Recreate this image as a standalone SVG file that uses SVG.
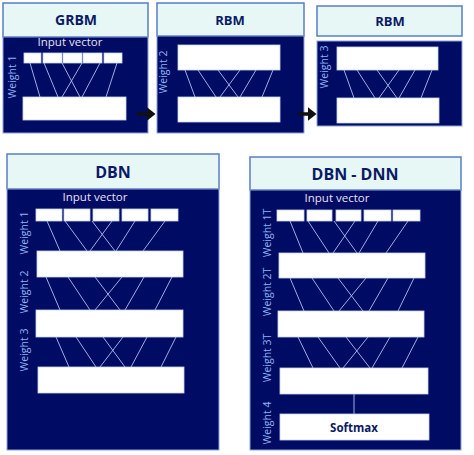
<svg xmlns="http://www.w3.org/2000/svg" width="474" height="455" viewBox="0 0 474 455">
<style>
.hdr{fill:#e6f7f6;stroke:#5a7ec2;stroke-width:1.5}
.pnl{fill:#000b63;stroke:#8aa4e0;stroke-width:1}
.box{fill:#ffffff;stroke:#c8d4f4;stroke-width:0.8}
.ttl{font-family:"Open Sans","Liberation Sans",sans-serif;font-weight:bold;fill:#0a1a66;text-anchor:middle}
.inp{font-family:"Open Sans","Liberation Sans",sans-serif;font-size:11.5px;fill:#e8e2f4;text-anchor:middle}
.wt{font-family:"Open Sans","Liberation Sans",sans-serif;font-size:10.5px;fill:#8fb4f4;text-anchor:middle}
.ln line{stroke:#a9c2f2;stroke-width:0.9}
.arr{stroke:#111;stroke-width:3.5}
</style>
<defs>
<marker id="ah" markerWidth="4" markerHeight="4" refX="1.5" refY="2" orient="auto" markerUnits="strokeWidth"><path d="M0,0 L2.5,2 L0,4 z" fill="#111"/></marker>
</defs>

<g id="grbm">
<rect class="hdr" x="3" y="3" width="145" height="34"/>
<text class="ttl" x="76" y="25" font-size="14">GRBM</text>
<rect class="pnl" x="3" y="37" width="145" height="96"/>
<text class="inp" x="70" y="46">Input vector</text>
<rect class="box" x="24" y="53" width="17" height="10"/>
<rect class="box" x="43" y="53" width="19" height="10"/>
<rect class="box" x="63" y="53" width="19" height="10"/>
<rect class="box" x="83" y="53" width="19" height="10"/>
<rect class="box" x="104" y="53" width="18" height="10"/>
<rect class="box" x="23" y="97" width="103" height="23"/>
<text class="wt" transform="translate(16,77) rotate(-90)">Weight 1</text>
</g>

<g id="rbm1">
<rect class="hdr" x="157" y="3" width="147" height="33"/>
<text class="ttl" x="230" y="25" font-size="13">RBM</text>
<rect class="pnl" x="157" y="36" width="147" height="97"/>
<rect class="box" x="178" y="45" width="102" height="25"/>
<rect class="box" x="178" y="97" width="102" height="25"/>
<text class="wt" transform="translate(167,72) rotate(-90)">Weight 2</text>
</g>

<g id="rbm2">
<rect class="hdr" x="317" y="6" width="145" height="30"/>
<text class="ttl" x="390" y="26" font-size="13">RBM</text>
<rect class="pnl" x="317" y="41" width="145" height="85"/>
<rect class="box" x="337" y="47" width="101" height="23"/>
<rect class="box" x="337" y="98" width="102" height="25"/>
<text class="wt" transform="translate(328,67) rotate(-90)">Weight 3</text>
</g>

<g id="dbn">
<rect class="hdr" x="7" y="154" width="212" height="35"/>
<text class="ttl" x="113" y="178" font-size="16">DBN</text>
<rect class="pnl" x="7" y="189" width="212" height="261"/>
<text class="inp" x="95" y="201">Input vector</text>
<rect class="box" x="36" y="209" width="26" height="12"/>
<rect class="box" x="64" y="209" width="26" height="12"/>
<rect class="box" x="93" y="209" width="26" height="12"/>
<rect class="box" x="122" y="209" width="26" height="12"/>
<rect class="box" x="151" y="209" width="27" height="12"/>
<rect class="box" x="37" y="251" width="146" height="26"/>
<rect class="box" x="36" y="310" width="147" height="27"/>
<rect class="box" x="38" y="367" width="146" height="26"/>
<text class="wt" transform="translate(28,233) rotate(-90)">Weight 1</text>
<text class="wt" transform="translate(28,292) rotate(-90)">Weight 2</text>
<text class="wt" transform="translate(28,350) rotate(-90)">Weight 3</text>
</g>

<g id="dbn-dnn">
<rect class="hdr" x="250" y="157" width="211" height="33"/>
<text class="ttl" x="355" y="180" font-size="16">DBN - DNN</text>
<rect class="pnl" x="250" y="190" width="211" height="260"/>
<text class="inp" x="337" y="202">Input vector</text>
<rect class="box" x="277" y="210" width="27" height="11"/>
<rect class="box" x="307" y="210" width="25" height="11"/>
<rect class="box" x="336" y="210" width="25" height="11"/>
<rect class="box" x="364" y="210" width="27" height="11"/>
<rect class="box" x="393" y="210" width="27" height="11"/>
<rect class="box" x="279" y="253" width="146" height="25"/>
<rect class="box" x="278" y="311" width="146" height="26"/>
<rect class="box" x="280" y="368" width="148" height="26"/>
<rect class="box" x="280" y="414" width="149" height="26"/>
<text class="ttl" x="354" y="432" font-size="11.5">Softmax</text>
<text class="wt" transform="translate(271,233) rotate(-90)">Weight 1T</text>
<text class="wt" transform="translate(271,292) rotate(-90)">Weight 2T</text>
<text class="wt" transform="translate(271,358) rotate(-90)">Weight 3T</text>
<text class="wt" transform="translate(271,423) rotate(-90)">Weight 4</text>
</g>

<g id="connectors">
<g class="ln">
<line x1="30" y1="63" x2="40" y2="97"/>
<line x1="44" y1="63" x2="58" y2="97"/>
<line x1="62" y1="63" x2="80" y2="97"/>
<line x1="82" y1="63" x2="62" y2="97"/>
<line x1="100" y1="63" x2="82" y2="97"/>
<line x1="117" y1="63" x2="106" y2="97"/>
<line x1="185" y1="70" x2="195" y2="97"/>
<line x1="198" y1="70" x2="216" y2="97"/>
<line x1="218" y1="70" x2="238" y2="97"/>
<line x1="240" y1="70" x2="220" y2="97"/>
<line x1="256" y1="70" x2="240" y2="97"/>
<line x1="273" y1="70" x2="262" y2="97"/>
<line x1="344" y1="70" x2="354" y2="98"/>
<line x1="357" y1="70" x2="375" y2="98"/>
<line x1="377" y1="70" x2="397" y2="98"/>
<line x1="399" y1="70" x2="379" y2="98"/>
<line x1="415" y1="70" x2="399" y2="98"/>
<line x1="432" y1="70" x2="421" y2="98"/>
<line x1="47" y1="221" x2="60" y2="251"/>
<line x1="65" y1="221" x2="87" y2="251"/>
<line x1="92" y1="221" x2="115" y2="251"/>
<line x1="112" y1="221" x2="90" y2="251"/>
<line x1="135" y1="221" x2="116" y2="251"/>
<line x1="165" y1="221" x2="143" y2="251"/>
<line x1="46" y1="277" x2="60" y2="310"/>
<line x1="68" y1="277" x2="90" y2="310"/>
<line x1="95" y1="277" x2="120" y2="310"/>
<line x1="122" y1="277" x2="95" y2="310"/>
<line x1="144" y1="277" x2="125" y2="310"/>
<line x1="172" y1="277" x2="155" y2="310"/>
<line x1="56" y1="337" x2="69" y2="367"/>
<line x1="76" y1="337" x2="96" y2="367"/>
<line x1="103" y1="337" x2="125" y2="367"/>
<line x1="123" y1="337" x2="100" y2="367"/>
<line x1="147" y1="337" x2="131" y2="367"/>
<line x1="176" y1="337" x2="161" y2="367"/>
<line x1="290" y1="221" x2="303" y2="253"/>
<line x1="308" y1="221" x2="329" y2="253"/>
<line x1="334" y1="221" x2="357" y2="253"/>
<line x1="355" y1="221" x2="333" y2="253"/>
<line x1="378" y1="221" x2="359" y2="253"/>
<line x1="408" y1="221" x2="386" y2="253"/>
<line x1="290" y1="278" x2="304" y2="311"/>
<line x1="312" y1="278" x2="334" y2="311"/>
<line x1="338" y1="278" x2="363" y2="311"/>
<line x1="366" y1="278" x2="339" y2="311"/>
<line x1="388" y1="278" x2="369" y2="311"/>
<line x1="414" y1="278" x2="398" y2="311"/>
<line x1="298" y1="337" x2="313" y2="368"/>
<line x1="318" y1="337" x2="340" y2="368"/>
<line x1="346" y1="337" x2="370" y2="368"/>
<line x1="368" y1="337" x2="343" y2="368"/>
<line x1="390" y1="337" x2="372" y2="368"/>
<line x1="418" y1="337" x2="402" y2="368"/>
<line x1="354" y1="394" x2="354" y2="414"/>
</g>
<line class="arr" x1="137" y1="114" x2="152" y2="114" marker-end="url(#ah)"/>
<line class="arr" x1="298" y1="114" x2="313" y2="114" marker-end="url(#ah)"/>
</g>
</svg>
